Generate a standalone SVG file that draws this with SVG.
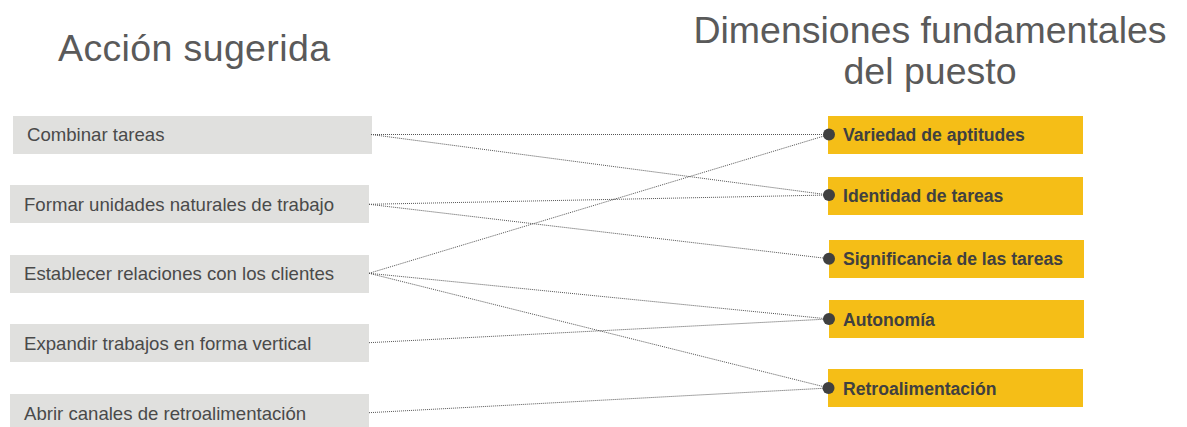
<svg xmlns="http://www.w3.org/2000/svg" width="1187" height="427" viewBox="0 0 1187 427">
<style>
.title{font-family:"Liberation Sans",Arial,sans-serif;font-size:37.5px;fill:#5a5a5a}
.lbox{fill:#E0E0DE}
.rbox{fill:#F5BE17}
.ltxt{font-family:"Liberation Sans",Arial,sans-serif;font-size:18.6px;fill:#4a4a4a}
.rtxt{font-family:"Liberation Sans",Arial,sans-serif;font-size:17.6px;font-weight:bold;fill:#404040}
.dot{fill:#404040}
.conn line{stroke:#555;stroke-width:1;stroke-dasharray:1 1;fill:none}
</style>
<rect width="1187" height="427" fill="#fff"/>
<text class="title" x="58" y="61" textLength="272" lengthAdjust="spacing">Acción sugerida</text>
<text class="title" x="930" y="43" text-anchor="middle">Dimensiones fundamentales</text>
<text class="title" x="930" y="84" text-anchor="middle">del puesto</text>

<g id="a1"><rect class="lbox" x="13" y="116" width="359" height="38"/><text class="ltxt" x="27" y="141">Combinar tareas</text></g>
<g id="a2"><rect class="lbox" x="10" y="185" width="359" height="38"/><text class="ltxt" x="24" y="211">Formar unidades naturales de trabajo</text></g>
<g id="a3"><rect class="lbox" x="10" y="255" width="359" height="38"/><text class="ltxt" x="24" y="280">Establecer relaciones con los clientes</text></g>
<g id="a4"><rect class="lbox" x="10" y="324" width="359" height="38"/><text class="ltxt" x="24" y="350">Expandir trabajos en forma vertical</text></g>
<g id="a5"><rect class="lbox" x="10" y="394" width="359" height="38"/><text class="ltxt" x="24" y="420">Abrir canales de retroalimentación</text></g>

<g id="d1"><rect class="rbox" x="828" y="116" width="255" height="38"/><text class="rtxt" x="843" y="141">Variedad de aptitudes</text></g>
<g id="d2"><rect class="rbox" x="828" y="177" width="255" height="38"/><text class="rtxt" x="843" y="202">Identidad de tareas</text></g>
<g id="d3"><rect class="rbox" x="829" y="240" width="255" height="38"/><text class="rtxt" x="843" y="265">Significancia de las tareas</text></g>
<g id="d4"><rect class="rbox" x="829" y="300" width="255" height="38"/><text class="rtxt" x="843" y="326">Autonomía</text></g>
<g id="d5"><rect class="rbox" x="828" y="369" width="255" height="38"/><text class="rtxt" x="843" y="395">Retroalimentación</text></g>

<g id="connectors" class="conn">
<line x1="371" y1="134.5" x2="829" y2="134.5"/>
<line x1="371" y1="134.5" x2="829" y2="195"/>
<line x1="369" y1="204.3" x2="829" y2="195"/>
<line x1="369" y1="204.3" x2="829" y2="258.7"/>
<line x1="369" y1="273.3" x2="829" y2="134.5"/>
<line x1="369" y1="273.3" x2="829" y2="319"/>
<line x1="369" y1="273.3" x2="829" y2="388"/>
<line x1="369" y1="342.7" x2="829" y2="319"/>
<line x1="369" y1="412.7" x2="829" y2="388"/>
<circle class="dot" cx="829" cy="134.5" r="6"/>
<circle class="dot" cx="829" cy="195" r="6"/>
<circle class="dot" cx="829" cy="258.7" r="6"/>
<circle class="dot" cx="829" cy="319" r="6"/>
<circle class="dot" cx="828.5" cy="388" r="6"/>
</g>
</svg>
